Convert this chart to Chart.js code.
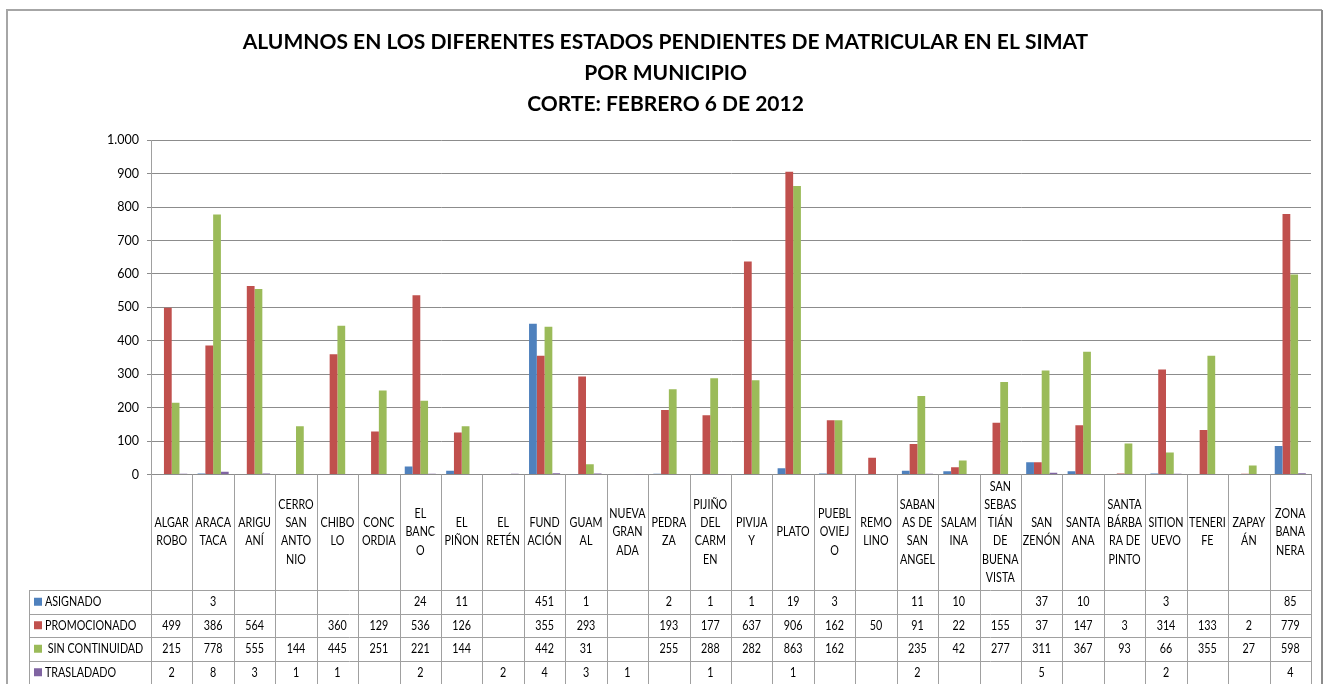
<!DOCTYPE html>
<html>
<head>
<meta charset="utf-8">
<script src="https://cdn.jsdelivr.net/npm/chart.js@4.4.1/dist/chart.umd.min.js"></script>
<style>
  html, body { margin: 0; padding: 0; background: #fff; }
  #wrap { width: 1328px; height: 684px; position: relative; }
</style>
</head>
<body>
<div id="wrap"><canvas id="chart" width="1328" height="684"></canvas></div>
<script>
// municipios (label lines as wrapped in the original data table)
const categories = [
  ['ALGAR', 'ROBO'], ['ARACA', 'TACA'], ['ARIGU', 'ANÍ'], ['CERRO', 'SAN', 'ANTO', 'NIO'],
  ['CHIBO', 'LO'], ['CONC', 'ORDIA'], ['EL', 'BANC', 'O'], ['EL', 'PIÑON'], ['EL', 'RETÉN'],
  ['FUND', 'ACIÓN'], ['GUAM', 'AL'], ['NUEVA', 'GRAN', 'ADA'], ['PEDRA', 'ZA'],
  ['PIJIÑO', 'DEL', 'CARM', 'EN'], ['PIVIJA', 'Y'], ['PLATO'], ['PUEBL', 'OVIEJ', 'O'],
  ['REMO', 'LINO'], ['SABAN', 'AS DE', 'SAN', 'ANGEL'], ['SALAM', 'INA'],
  ['SAN', 'SEBAS', 'TIÁN', 'DE', 'BUENA', 'VISTA'], ['SAN', 'ZENÓN'], ['SANTA', 'ANA'],
  ['SANTA', 'BÁRBA', 'RA DE', 'PINTO'], ['SITION', 'UEVO'], ['TENERI', 'FE'], ['ZAPAY', 'ÁN'],
  ['ZONA', 'BANA', 'NERA']
];

const asignado = [null, 3, null, null, null, null, 24, 11, null, 451, 1, null, 2, 1, 1, 19, 3,
  null, 11, 10, null, 37, 10, null, 3, null, null, 85];
const promocionado = [499, 386, 564, null, 360, 129, 536, 126, null, 355, 293, null, 193, 177, 637, 906, 162,
  50, 91, 22, 155, 37, 147, 3, 314, 133, 2, 779];
const sinContinuidad = [215, 778, 555, 144, 445, 251, 221, 144, null, 442, 31, null, 255, 288, 282, 863, 162,
  null, 235, 42, 277, 311, 367, 93, 66, 355, 27, 598];
const trasladado = [2, 8, 3, 1, 1, null, 2, null, 2, 4, 3, 1, null, 1, null, 1, null,
  null, 2, null, null, 5, null, null, 2, null, null, 4];

const seriesNames = ['ASIGNADO', 'PROMOCIONADO', ' SIN CONTINUIDAD', 'TRASLADADO'];
const seriesColors = ['#4F81BD', '#C0504D', '#9BBB59', '#8064A2'];
const yTicks = [0, 100, 200, 300, 400, 500, 600, 700, 800, 900, 1000];

const titleLines = [
  'ALUMNOS EN LOS DIFERENTES ESTADOS PENDIENTES DE MATRICULAR EN EL SIMAT',
  'POR MUNICIPIO',
  'CORTE: FEBRERO 6 DE 2012'
];

const FONT = 'Lato, "Open Sans", sans-serif';
const seriesData = [asignado, promocionado, sinContinuidad, trasladado];

// table text is squeezed a little to look like the narrow office font
function narrowText(ctx, text, x, y, align) {
  ctx.save();
  ctx.translate(x, y);
  ctx.scale(0.86, 1);
  ctx.textAlign = align;
  ctx.fillText(text, 0, 0);
  ctx.restore();
}

// frame + data table under the plot, positioned from the x scale
const tablePlugin = {
  id: 'dataTable',
  beforeDraw(chart) {
    const ctx = chart.ctx;
    ctx.save();
    ctx.strokeStyle = '#a6a6a6';
    ctx.lineWidth = 2;
    ctx.beginPath();
    ctx.moveTo(7, 700); ctx.lineTo(7, 10); ctx.lineTo(1322, 10);
    ctx.stroke();
    ctx.strokeStyle = '#8c8c8c';
    ctx.beginPath();
    ctx.moveTo(1322, 10); ctx.lineTo(1322, 700);
    ctx.stroke();
    ctx.restore();
  },
  afterDraw(chart) {
    const ctx = chart.ctx;
    const x = chart.scales.x;
    const area = chart.chartArea;
    const n = categories.length;
    const colW = (area.right - area.left) / n;
    const labTop = area.bottom;
    const rowTop = 590;
    const rowH = 23.5;
    const legLeft = 29;

    ctx.save();
    ctx.strokeStyle = '#a0a0a0';
    ctx.lineWidth = 1;
    ctx.beginPath();
    for (let i = 0; i <= n; i++) {
      const bx = Math.round(i < n ? x.getPixelForValue(i) - colW / 2 : area.right) + 0.5;
      ctx.moveTo(bx, labTop);
      ctx.lineTo(bx, 684);
    }
    ctx.moveTo(legLeft + 0.5, rowTop);
    ctx.lineTo(legLeft + 0.5, 684);
    for (let r = 0; r < 4; r++) {
      const yy = Math.round(rowTop + r * rowH) + 0.5;
      ctx.moveTo(legLeft, yy);
      ctx.lineTo(area.right, yy);
    }
    ctx.stroke();

    ctx.fillStyle = '#000';
    ctx.font = '12.5px ' + FONT;
    ctx.textBaseline = 'middle';
    const labMid = (labTop + rowTop) / 2;
    const lh = 18.3;
    categories.forEach((lines, i) => {
      const cx = x.getPixelForValue(i);
      const y0 = labMid - (lines.length - 1) * lh / 2;
      lines.forEach((t, k) => narrowText(ctx, t, cx, y0 + k * lh, 'center'));
    });

    seriesData.forEach((arr, r) => {
      const cy = rowTop + r * rowH + rowH / 2 + 0.5;
      ctx.fillStyle = '#000';
      arr.forEach((v, i) => {
        if (v !== null) narrowText(ctx, String(v), x.getPixelForValue(i), cy, 'center');
      });
      narrowText(ctx, seriesNames[r], legLeft + 16, cy, 'left');
      ctx.fillStyle = seriesColors[r];
      ctx.fillRect(legLeft + 5, cy - 4.5, 8, 8);
    });
    ctx.restore();
  }
};

new Chart(document.getElementById('chart'), {
  type: 'bar',
  data: {
    labels: categories,
    datasets: seriesNames.map((name, i) => ({
      label: name.trim(),
      data: seriesData[i],
      backgroundColor: seriesColors[i],
      borderWidth: 0,
      categoryPercentage: 0.75,
      barPercentage: 1.0
    }))
  },
  options: {
    responsive: false,
    animation: false,
    devicePixelRatio: 1,
    layout: { padding: { top: 5, left: 20, right: 17, bottom: 209.5 } },
    plugins: {
      legend: { display: false },
      tooltip: { enabled: false },
      title: {
        display: true,
        text: titleLines,
        color: '#000',
        font: { family: FONT, size: 21, weight: 'bold', lineHeight: 1.48 },
        padding: { top: 21.5, bottom: 20.5 }
      }
    },
    scales: {
      x: {
        ticks: { display: false },
        grid: { display: false, drawTicks: false },
        border: { display: true, color: '#8c8c8c', width: 1 }
      },
      y: {
        min: 0,
        max: 1000,
        afterFit(scale) { scale.width = 131; },
        afterBuildTicks(scale) { scale.ticks = yTicks.map(v => ({ value: v })); },
        ticks: {
          color: '#000',
          padding: 8,
          font: { family: FONT, size: 12.5 },
          callback: v => v.toString().replace(/\B(?=(\d{3})+(?!\d))/g, '.')
        },
        grid: { color: '#8c8c8c', tickLength: 4, drawTicks: true },
        border: { display: true, color: '#a0a0a0', width: 1 }
      }
    }
  },
  plugins: [tablePlugin]
});
</script>
</body>
</html>
